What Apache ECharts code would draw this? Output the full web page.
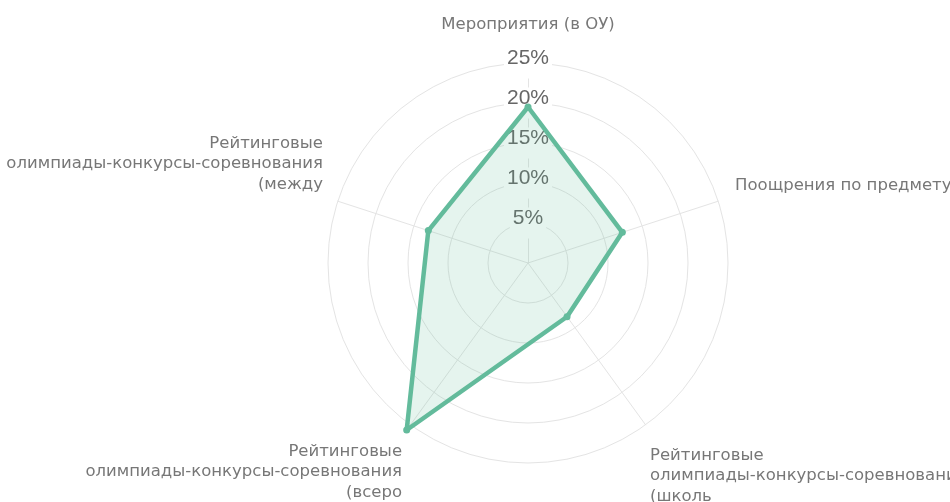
<!DOCTYPE html>
<html>
<head>
<meta charset="utf-8">
<script src="https://cdn.jsdelivr.net/npm/echarts@6/dist/echarts.min.js"></script>
<style>
  html, body { margin: 0; padding: 0; background: #fff; }
  #chart { width: 950px; height: 502px; }
</style>
</head>
<body>
<div id="chart"></div>
<script>
// spokes, counter-clockwise from the top (echarts order)
const categories = [
    'Мероприятия (в ОУ)',
    'Рейтинговые\nолимпиады-конкурсы-соревнования\n(между',
    'Рейтинговые\nолимпиады-конкурсы-соревнования\n(всеро',
    'Рейтинговые\nолимпиады-конкурсы-соревнования\n(школь',
    'Поощрения по предмету'
];
const values = [19.5, 13.1, 25.8, 8.3, 12.4];   // %
const axisMax = 25;
const axisStep = 5;

const LINE = '#63bb9c';

// where each name sits: gap from the ring, plus an empty spacer line
// above (down) or below (up) the text to push it like the original
const nameLayout = [
    { gap: 28 },
    { gap: 15.6, up: 'u65' },
    { gap: 14.3, down: 'd71' },
    { gap: 7.5,  down: 'd90' },
    { gap: 17.7, up: 'u21' }
];

var chart = echarts.init(document.getElementById('chart'));

var indicators = categories.map(function (name, i) {
    var ind = {
        name: name,
        min: 0,
        max: axisMax,
        nameGap: nameLayout[i].gap
    };
    if (i === 0) {
        // tick labels only on the top spoke
        ind.axisLabel = {
            show: true,
            formatter: '{t|{value}%}',
            showMinLabel: false,
            margin: 0,
            align: 'center',
            verticalAlign: 'middle',
            rich: {
                t: {
                    color: '#666',
                    fontSize: 21,
                    fontFamily: 'Liberation Sans',
                    backgroundColor: '#fff',
                    padding: [0, 3, 10, 3]
                }
            }
        };
    }
    return ind;
});

chart.setOption({
    backgroundColor: '#fff',
    animation: false,
    radar: {
        center: [528, 263],
        radius: 200,
        shape: 'circle',
        startAngle: 90,
        splitNumber: axisMax / axisStep,
        z: 0,
        axisName: {
            color: '#777',
            fontFamily: 'DejaVu Sans',
            fontSize: 16.5,
            lineHeight: 20.5,
            formatter: function (name, ind) {
                var lay = nameLayout[categories.indexOf(name)] || {};
                if (lay.up) return name + '\n{' + lay.up + '| }';
                if (lay.down) return '{' + lay.down + '| }\n' + name;
                return name;
            },
            rich: {
                u65: { lineHeight: 65, fontSize: 1 },
                u21: { lineHeight: 21, fontSize: 1 },
                d71: { lineHeight: 71, fontSize: 1 },
                d90: { lineHeight: 90, fontSize: 1 }
            }
        },
        axisLine: { lineStyle: { color: '#e4e4e4', width: 1 } },
        splitLine: { lineStyle: { color: '#e4e4e4', width: 1 } },
        splitArea: { show: false },
        axisTick: { show: false },
        axisLabel: { show: false },
        indicator: indicators
    },
    series: [{
        type: 'radar',
        z: 2,
        symbol: 'circle',
        symbolSize: 7,
        itemStyle: { color: LINE },
        lineStyle: { color: LINE, width: 4.5, join: 'round' },
        areaStyle: { color: 'rgba(99,187,156,0.24)' },
        data: [{ value: values, name: 'values' }]
    }]
});
</script>
</body>
</html>
